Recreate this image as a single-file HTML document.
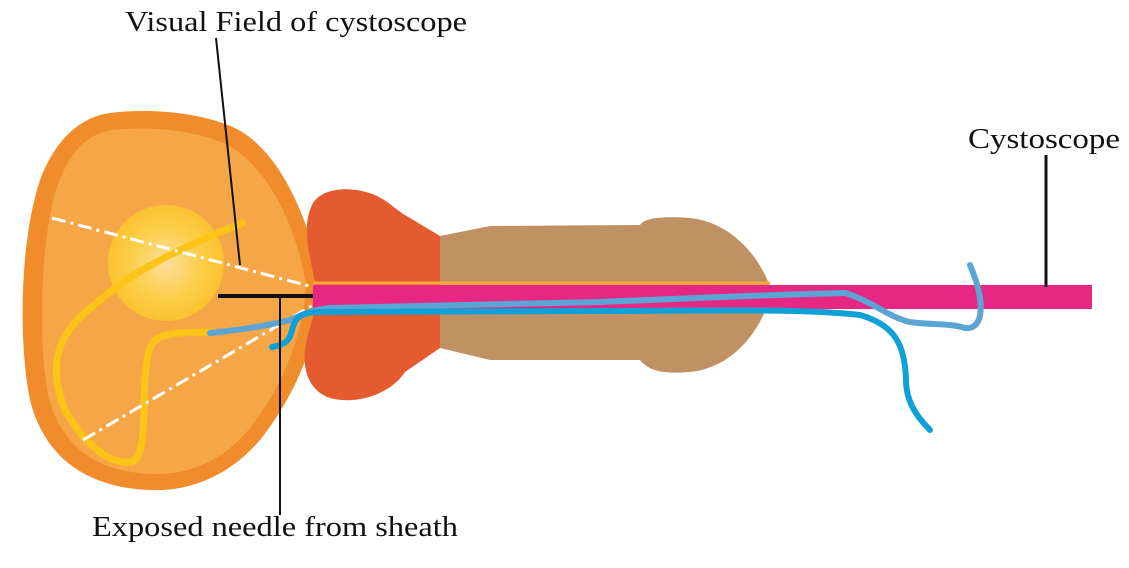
<!DOCTYPE html>
<html><head><meta charset="utf-8"><style>html,body{margin:0;padding:0;background:#fff}svg{display:block}</style></head>
<body>
<svg width="1129" height="568" viewBox="0 0 1129 568" xmlns="http://www.w3.org/2000/svg">
<defs>
<radialGradient id="g" cx="0.5" cy="0.5" r="0.5">
<stop offset="0" stop-color="#fde3a6"/><stop offset="0.6" stop-color="#fcd24a"/><stop offset="1" stop-color="#fcc52e"/>
</radialGradient>
</defs>
<!-- prostate -->
<path d="M110,113 C150,108 200,112 235,128 C280,150 310,220 322,285 C320,330 300,390 260,440 C230,475 190,492 150,490 C90,488 45,460 30,400 C18,340 20,240 40,180 C55,140 80,117 110,113 Z" fill="#f08c2c"/>
<path d="M112,130 C150,126 195,130 228,145 C268,168 296,225 306,285 C304,325 288,380 250,428 C222,462 188,475 152,474 C100,472 62,450 48,395 C38,340 40,245 56,190 C68,153 88,133 112,130 Z" fill="#f5a748"/>
<circle cx="166" cy="263" r="58" fill="url(#g)" opacity="0.92"/>
<!-- bladder neck -->
<path d="M312,205 C320,188 350,185 375,195 C390,202 398,212 410,218 L440,236 L440,348 L405,372 C390,395 355,405 330,398 C305,390 300,360 308,335 C315,310 318,300 316,290 C312,260 300,230 312,205 Z" fill="#e55b30"/>
<!-- tan -->
<path d="M440,236 L490,226 L640,225 C645,218 660,216 690,218 C730,222 760,255 772,292 C760,335 730,368 690,372 C665,374 650,372 640,360 L490,360 L440,348 Z" fill="#c09163"/>
<!-- orange lines -->
<line x1="313" y1="283" x2="770" y2="283" stroke="#f8a53a" stroke-width="3"/>
<line x1="313" y1="311" x2="765" y2="311" stroke="#f8a53a" stroke-width="3"/>
<!-- yellow wire -->
<path d="M245,222 C200,240 140,265 100,300 C60,330 45,360 65,410 C85,445 110,465 132,462 C150,455 140,390 148,355 C152,335 162,332 215,332" fill="none" stroke="#fcc417" stroke-width="7" stroke-linejoin="round"/>
<!-- dash-dot -->
<line x1="52" y1="218" x2="313" y2="287" stroke="#fff" stroke-width="3" stroke-dasharray="14,5,3,5"/>
<line x1="83" y1="440" x2="313" y2="305" stroke="#fff" stroke-width="3" stroke-dasharray="14,5,3,5"/>
<!-- pink cystoscope -->
<rect x="313" y="285" width="779" height="24" fill="#e62884"/>
<!-- blue wires -->
<path d="M210,333 C240,330 270,325 290,320 C300,316 310,310 330,308 L600,302 C700,298 760,295 845,293 C870,300 890,318 910,322 C930,325 950,323 965,328 C985,330 985,300 970,265" fill="none" stroke="#5aa5d4" stroke-width="6" stroke-linecap="round"/>
<path d="M272,347 C285,345 290,340 292,330 C295,318 300,312 320,312 L600,311 C700,311 800,308 860,315 C895,325 905,345 906,380 C906,400 915,415 930,430" fill="none" stroke="#0fa0d8" stroke-width="6" stroke-linecap="round"/>
<!-- black leaders -->
<line x1="218" y1="296" x2="313" y2="296" stroke="#111" stroke-width="4"/>
<line x1="280" y1="296" x2="280" y2="515" stroke="#111" stroke-width="2"/>
<line x1="216" y1="38" x2="240" y2="265" stroke="#111" stroke-width="2"/>
<line x1="1046" y1="155" x2="1046" y2="287" stroke="#111" stroke-width="3"/>
<!-- text -->
<g font-family="Liberation Serif, serif" font-size="29" fill="#111">
<text x="125" y="31" textLength="342" lengthAdjust="spacingAndGlyphs">Visual Field of cystoscope</text>
<text x="968" y="148" textLength="152" lengthAdjust="spacingAndGlyphs">Cystoscope</text>
<text x="92" y="536" textLength="366" lengthAdjust="spacingAndGlyphs">Exposed needle from sheath</text>
</g>
</svg>
</body></html>
